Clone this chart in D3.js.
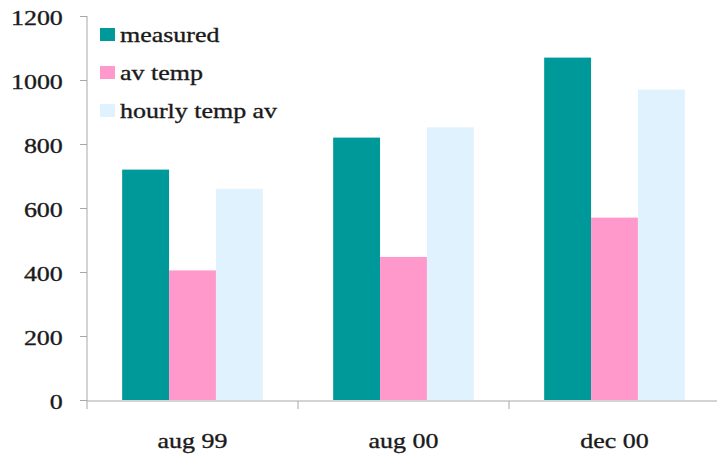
<!DOCTYPE html>
<html>
<head>
<meta charset="utf-8">
<script src="https://cdn.jsdelivr.net/npm/d3@7"></script>
<style>
  html, body { margin: 0; padding: 0; background: #fff; }
  svg { display: block; }
  text { font-family: "Liberation Serif", "Times New Roman", serif; fill: #1a1a1a; stroke: #1a1a1a; stroke-width: 0.35px; }
</style>
</head>
<body>
<svg id="chart" width="717" height="459"></svg>
<script>
const categories = ["aug 99", "aug 00", "dec 00"];
const seriesNames = ["measured", "av temp", "hourly temp av"];
const measured = [720, 820, 1070];
const avTemp = [405, 447, 570];
const hourlyTempAv = [660, 852, 970];
const yTicks = [0, 200, 400, 600, 800, 1000, 1200];
const colors = ["#009999", "#FF99CC", "#E0F2FE"];

const seriesValues = [measured, avTemp, hourlyTempAv];
const SX = 1.18; // horizontal text stretch seen in reference

const svg = d3.select("#chart");
const x0 = d3.scaleBand().domain(categories).range([87, 720]).padding(0);
const x1 = d3.scaleBand().domain(seriesNames).range([0, x0.bandwidth()])
  .paddingInner(0).paddingOuter(0.75);
const y = d3.scaleLinear().domain([0, 1200]).range([400, 16]);

// bars
seriesNames.forEach((s, si) => {
  svg.append("g").selectAll("rect")
    .data(categories.map((c, ci) => ({ c, v: seriesValues[si][ci] })))
    .join("rect")
    .attr("x", d => x0(d.c) + x1(s))
    .attr("width", x1.bandwidth())
    .attr("y", d => y(d.v))
    .attr("height", d => y(0) - y(d.v))
    .attr("fill", colors[si]);
});

// y axis
const yAxis = svg.append("g")
  .attr("transform", "translate(87,0)")
  .call(d3.axisLeft(y).tickValues(yTicks).tickSize(7).tickPadding(0).tickFormat(d3.format("d")));
yAxis.select(".domain").attr("stroke", "#a8a8a8").attr("d", "M0,16V401");
yAxis.selectAll(".tick line").attr("stroke", "#a8a8a8");
yAxis.selectAll(".tick text")
  .attr("x", -20.5)
  .attr("dy", "0.38em")
  .attr("transform", `scale(${SX},1)`)
  .style("font-size", "22px")
  .style("font-family", "'Liberation Serif', 'Times New Roman', serif")
  .attr("fill", "#1a1a1a");

// x axis
const xAxis = svg.append("g")
  .attr("transform", "translate(0,401)");
xAxis.append("line").attr("x1", 87).attr("x2", 720).attr("y1", 0).attr("y2", 0)
  .attr("stroke", "#a8a8a8");
const edges = [x0.range()[0]].concat(categories.map(c => x0(c) + x0.bandwidth()));
xAxis.selectAll("line.tk").data(edges).join("line").attr("class", "tk")
  .attr("x1", d => d).attr("x2", d => d).attr("y1", 0).attr("y2", 8)
  .attr("stroke", "#a8a8a8");
xAxis.selectAll("text").data(categories).join("text")
  .attr("transform", d => `translate(${x0(d) + x0.bandwidth() / 2},47) scale(${SX},1)`)
  .attr("text-anchor", "middle")
  .style("font-size", "22px")
  .text(d => d);

// legend
const legend = svg.append("g");
seriesNames.forEach((s, i) => {
  const yy = 42 + i * 38;
  legend.append("rect").attr("x", 100).attr("y", yy - 14).attr("width", 15).attr("height", 13)
    .attr("fill", colors[i]);
  legend.append("text")
    .attr("transform", `translate(120,${yy}) scale(${SX},1)`)
    .style("font-size", "22px")
    .text(s);
});
</script>
</body>
</html>
